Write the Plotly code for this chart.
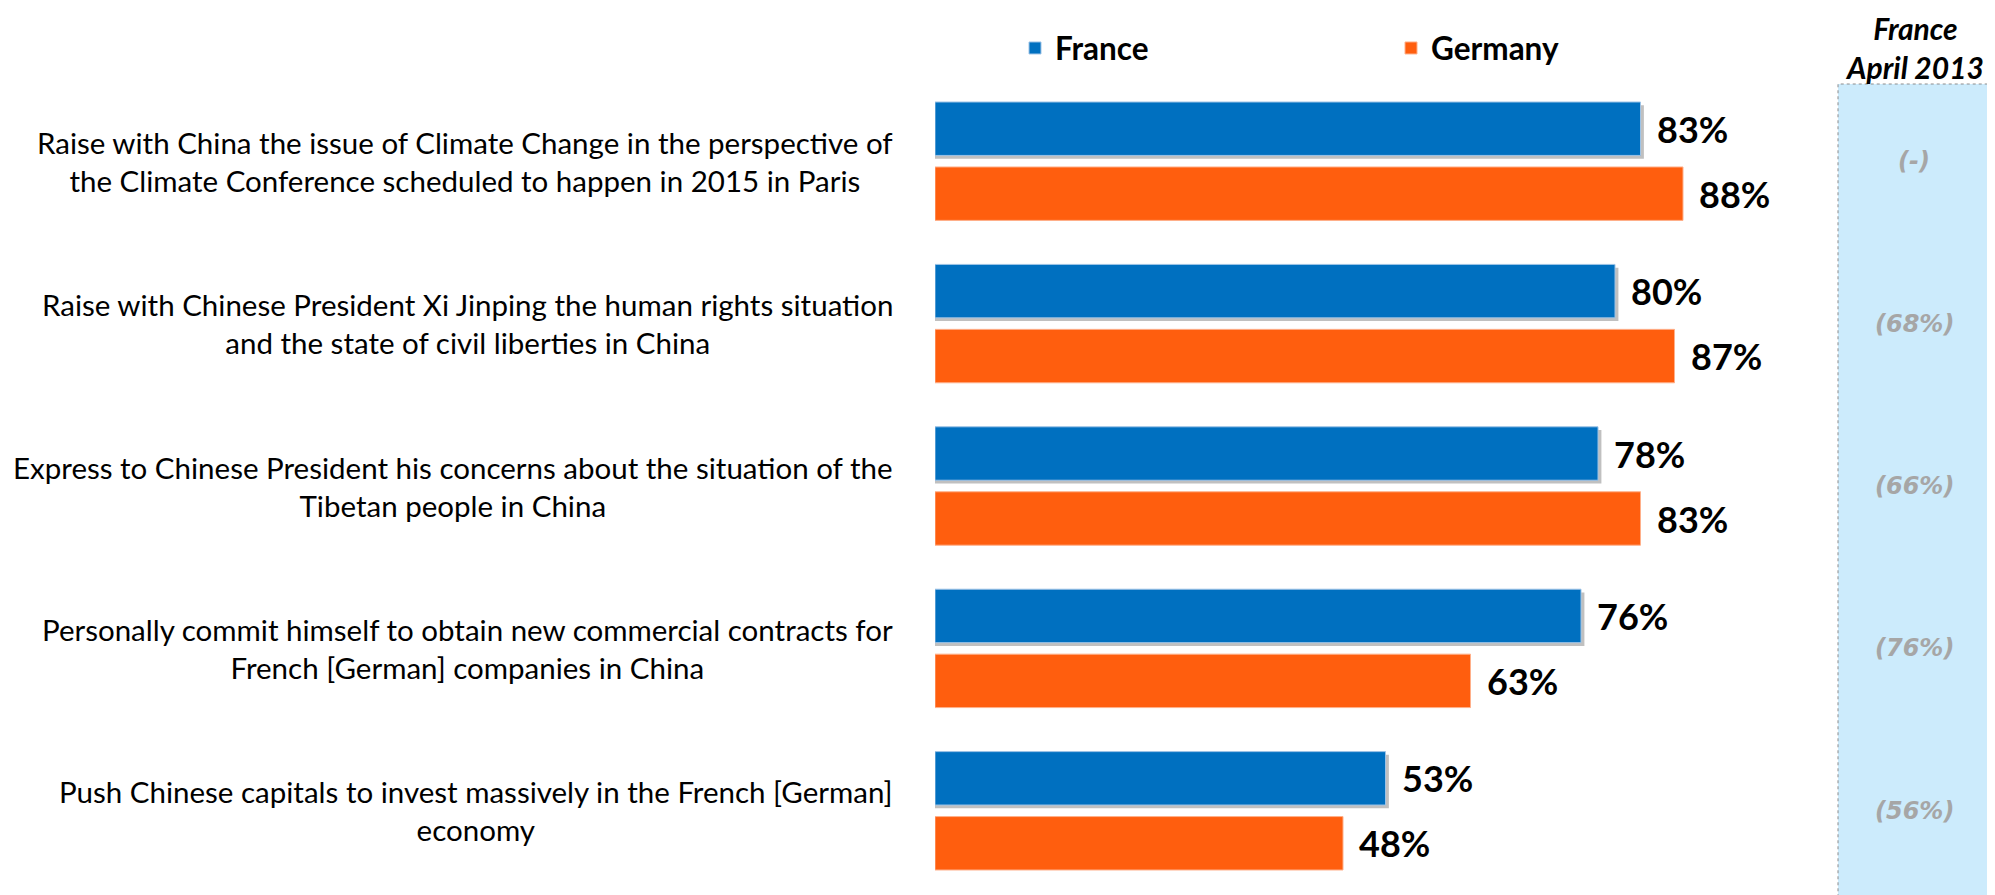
import plotly.graph_objects as go

categories = [
    "Raise with China the issue of Climate Change in the perspective of<br>the Climate Conference scheduled to happen in 2015 in Paris",
    "Raise with Chinese President Xi Jinping the human rights situation<br>and the state of civil liberties in China",
    "Express to Chinese President his concerns about the situation of the<br>Tibetan people in China",
    "Personally commit himself to obtain new commercial contracts for<br>French [German] companies in China",
    "Push Chinese capitals to invest massively in the French [German]<br>economy",
]
france = [83, 80, 78, 76, 53]
germany = [88, 87, 83, 63, 48]
france_2013 = ["(-)", "(68%)", "(66%)", "(76%)", "(56%)"]
series_names = ["France", "Germany"]
panel_title = ["France", "April 2013"]

BLUE = "#0070C0"
ORANGE = "#FF5E0E"
FONT = "Lato"

# page body has an 8px margin; figure sized to fill the rest of the window
W, H = 1987, 887
M_T, M_B = 72, 3
PLOT_BOTTOM = H - M_B
PLOT_H = H - M_T - M_B


def py(px):
    """figure pixel row -> paper y"""
    return (PLOT_BOTTOM - px) / PLOT_H


X0_PX, X1_PX = 927, 1777
BAR_W = 0.329

fig = go.Figure()
# shadow under France bars
fig.add_trace(go.Bar(
    y=categories, x=[v + 0.4 for v in france], orientation="h",
    offset=-0.3645 + 0.02, width=BAR_W,
    marker=dict(color="rgba(140,140,140,0.55)", line=dict(width=0)),
    showlegend=False, hoverinfo="skip",
))
fig.add_trace(go.Bar(
    y=categories, x=france, orientation="h", name="<b>" + series_names[0] + "</b>",
    offset=-0.3645, width=BAR_W,
    marker=dict(color=BLUE, line=dict(color="#9DC3E6", width=1)),
))
fig.add_trace(go.Bar(
    y=categories, x=germany, orientation="h", name="<b>" + series_names[1] + "</b>",
    offset=0.0355, width=BAR_W,
    marker=dict(color=ORANGE, line=dict(color="#FFB08A", width=1)),
))

annotations = []
for cat, f, g, old in zip(categories, france, germany, france_2013):
    annotations.append(dict(
        x=887 / W, xref="paper", y=cat, yref="y",
        text=cat, showarrow=False, xanchor="right", yanchor="middle",
        align="center", font=dict(family=FONT, size=29.5, color="black"),
    ))
    annotations.append(dict(
        x=f, y=cat, xref="x", yref="y", text="<b>%d%%</b>" % f, showarrow=False,
        xanchor="left", yanchor="middle", xshift=14, yshift=32.5,
        font=dict(family=FONT, size=36, color="black"),
    ))
    annotations.append(dict(
        x=g, y=cat, xref="x", yref="y", text="<b>%d%%</b>" % g, showarrow=False,
        xanchor="left", yanchor="middle", xshift=14, yshift=-32.5,
        font=dict(family=FONT, size=36, color="black"),
    ))
    annotations.append(dict(
        x=1906 / W, xref="paper", y=cat, yref="y", text="<b><i>%s</i></b>" % old,
        showarrow=False, xanchor="center", yanchor="middle",
        font=dict(family="DejaVu Sans", size=24, color="#A6A6A6"),
    ))

annotations.append(dict(
    x=1906 / W, xref="paper", y=py(0), yref="paper", yanchor="top",
    text="<br>".join("<b><i>%s</i></b>" % t for t in panel_title),
    showarrow=False, xanchor="center", align="center",
    font=dict(family=FONT, size=30, color="black"),
))

shapes = [dict(
    type="rect", xref="paper", yref="paper",
    x0=1830 / W, x1=1.02, y0=-0.02, y1=py(76),
    fillcolor="#CCEBFC", line=dict(color="#8C8C8C", width=1, dash="dot"),
    layer="below",
)]

fig.update_layout(
    width=W, height=H,
    margin=dict(l=0, r=0, t=M_T, b=M_B),
    paper_bgcolor="white", plot_bgcolor="rgba(0,0,0,0)",
    barmode="overlay",
    xaxis=dict(domain=[X0_PX / W, X1_PX / W], range=[0, 100], visible=False, fixedrange=True),
    yaxis=dict(autorange="reversed", showticklabels=False, showgrid=False, zeroline=False,
               fixedrange=True),
    legend=dict(orientation="h", x=1007 / W, y=py(40), xanchor="left", yanchor="middle",
                yref="paper", entrywidth=331, font=dict(family=FONT, size=31.5, color="black"),
                traceorder="normal"),
    annotations=annotations,
    shapes=shapes,
    showlegend=True,
)

fig.write_html("out.html")
